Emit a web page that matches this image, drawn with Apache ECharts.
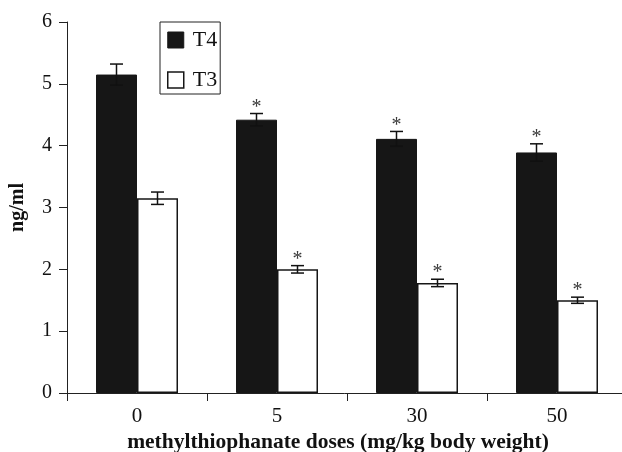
<!DOCTYPE html>
<html>
<head>
<meta charset="utf-8">
<script src="https://cdn.jsdelivr.net/npm/echarts@6/dist/echarts.min.js"></script>
<style>html,body{margin:0;padding:0;background:#fff}#c{width:622px;height:452px}</style>
</head>
<body>
<div id="c"></div>
<script>
var categories = ['0', '5', '30', '50'];
var t4 = [5.15, 4.42, 4.11, 3.89];
var t4err = [0.17, 0.10, 0.12, 0.14];
var t3 = [3.15, 2.00, 1.78, 1.50];
var t3err = [0.10, 0.06, 0.06, 0.05];
var t4sig = [0, 1, 1, 1];
var t3sig = [0, 1, 1, 1];
var yTicks = [0, 1, 2, 3, 4, 5, 6];

var FONT = 'Liberation Serif';
var BAR_W = 41;

function errSeries(name, vals, errs, sig, offset) {
  var data = vals.map(function (v, i) { return [i, v, errs[i], sig[i]]; });
  return {
    type: 'custom',
    name: name + ' err',
    z: 5,
    silent: true,
    data: data,
    encode: { x: 0, y: 1 },
    renderItem: function (params, api) {
      var i = api.value(0), v = api.value(1), e = api.value(2), s = api.value(3);
      var x = api.coord([i, 0])[0] + offset;
      var yHi = api.coord([i, v + e])[1];
      var yLo = api.coord([i, v - e])[1];
      var cap = 6.5;
      var st = { stroke: '#111', lineWidth: 1.5 };
      var children = [
        { type: 'line', shape: { x1: x, y1: yHi, x2: x, y2: yLo }, style: st },
        { type: 'line', shape: { x1: x - cap, y1: yHi, x2: x + cap, y2: yHi }, style: st },
        { type: 'line', shape: { x1: x - cap, y1: yLo, x2: x + cap, y2: yLo }, style: st }
      ];
      if (s) {
        children.push({
          type: 'text',
          style: { text: '*', x: x, y: yHi - 6, textAlign: 'center', textVerticalAlign: 'middle',
                   font: '20px "' + FONT + '"', fill: '#3a3a3a' }
        });
      }
      return { type: 'group', children: children };
    }
  };
}

var chart = echarts.init(document.getElementById('c'), null, { renderer: 'canvas' });
chart.setOption({
  animation: false,
  backgroundColor: '#fff',
  textStyle: { fontFamily: FONT },
  grid: { left: 67, right: -5, top: 22, bottom: 59, containLabel: false, outerBoundsMode: 'none' },
  legend: {
    orient: 'vertical',
    left: 160, top: 22,
    borderColor: '#222', borderWidth: 1,
    padding: [7, 3, 3, 7],
    itemGap: 18,
    itemWidth: 16, itemHeight: 16,
    icon: 'rect',
    textStyle: { fontFamily: FONT, fontSize: 22, color: '#111', lineHeight: 22, padding: [0, 0, 0, 4] },
    data: [
      { name: 'T4', itemStyle: { color: '#161616', borderColor: '#161616', borderWidth: 1 } },
      { name: 'T3', itemStyle: { color: '#fff', borderColor: '#161616', borderWidth: 1.5 } }
    ]
  },
  xAxis: {
    type: 'category',
    data: categories,
    name: 'methylthiophanate doses (mg/kg body weight)',
    nameLocation: 'middle',
    nameGap: 36,
    nameTextStyle: { fontFamily: FONT, fontSize: 21.5, fontWeight: 'bold', color: '#111', padding: [0, 18, 0, 0] },
    axisLine: { lineStyle: { color: '#222', width: 1 } },
    axisTick: { show: true, length: 8, alignWithLabel: false, lineStyle: { color: '#222' } },
    axisLabel: { fontFamily: FONT, fontSize: 21, color: '#111', margin: 13 },
    splitLine: { show: false }
  },
  yAxis: {
    type: 'value',
    min: 0, max: 6, interval: 1,
    name: 'ng/ml',
    nameLocation: 'middle',
    nameGap: 39,
    nameRotate: 90,
    nameTextStyle: { fontFamily: FONT, fontSize: 20, fontWeight: 'bold', color: '#111' },
    axisLine: { show: true, lineStyle: { color: '#222', width: 1 } },
    axisTick: { show: true, length: 8, inside: false, lineStyle: { color: '#222' } },
    axisLabel: { fontFamily: FONT, fontSize: 20, color: '#111', margin: 15, padding: [0, 0, 6, 0],
      formatter: function (v) { return yTicks.indexOf(v) >= 0 ? String(v) : ''; } },
    splitLine: { show: false }
  },
  series: [
    { type: 'bar', name: 'T4', data: t4, barWidth: BAR_W, barGap: '0%',
      itemStyle: { color: '#161616', borderColor: '#161616', borderWidth: 1 } },
    { type: 'bar', name: 'T3', data: t3, barWidth: BAR_W, barGap: '0%',
      itemStyle: { color: '#fff', borderColor: '#161616', borderWidth: 1.5 } },
    errSeries('T4', t4, t4err, t4sig, -BAR_W / 2),
    errSeries('T3', t3, t3err, t3sig, BAR_W / 2)
  ]
});
</script>
</body>
</html>
